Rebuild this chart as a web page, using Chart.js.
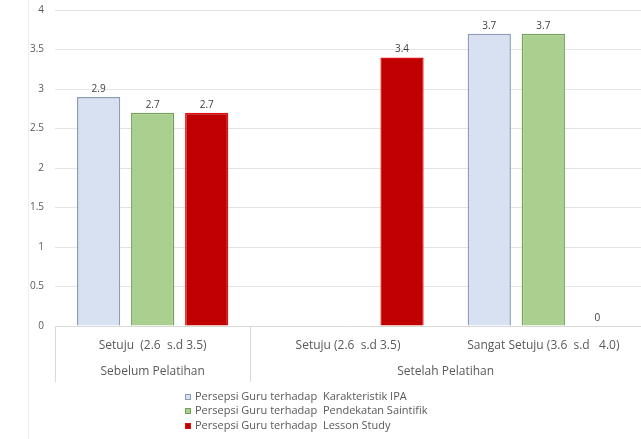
<!DOCTYPE html>
<html>
<head>
<meta charset="utf-8">
<script src="https://cdn.jsdelivr.net/npm/chart.js@4.4.1/dist/chart.umd.min.js"></script>
<style>
  html, body { margin: 0; padding: 0; background: #ffffff; }
  #wrap { width: 641px; height: 439px; }
</style>
</head>
<body>
<div id="wrap"><canvas id="c" width="641" height="439"></canvas></div>
<script>
// Category rows of the x axis
const categories = ['Setuju  (2.6  s.d 3.5)', 'Setuju (2.6  s.d 3.5)', 'Sangat Setuju (3.6  s.d   4.0)'];
const groups = ['Sebelum Pelatihan', 'Setelah Pelatihan'];
const groupOfCategory = [0, 1, 1];

// Series
const seriesNames = [
  'Persepsi Guru terhadap  Karakteristik IPA',
  'Persepsi Guru terhadap  Pendekatan Saintifik',
  'Persepsi Guru terhadap  Lesson Study'
];
const karakteristikIPA = [2.9, null, 3.7];
const pendekatanSaintifik = [2.7, null, 3.7];
const lessonStudy = [2.7, 3.4, 0];

// Value axis ticks
const yTicks = [0, 0.5, 1, 1.5, 2, 2.5, 3, 3.5, 4];

const FONT = '"Open Sans", Lato, "Liberation Sans", sans-serif';
const TEXT = '#595959';
const LINE = '#d9d9d9';

const fills = ['#d7e1f1', '#a9d08e', '#c00000'];
const borders = ['#8c9cb8', '#74a05a', '#e01010'];

// Lower category row: group names with separators
const groupRow = {
  id: 'groupRow',
  afterDraw(chart) {
    const ctx = chart.ctx, x = chart.scales.x, area = chart.chartArea;
    const half = (x.getPixelForValue(1) - x.getPixelForValue(0)) / 2;
    ctx.save();
    ctx.strokeStyle = LINE;
    ctx.lineWidth = 1;
    ctx.fillStyle = TEXT;
    ctx.font = '12px ' + FONT;
    ctx.textAlign = 'center';
    ctx.textBaseline = 'middle';
    groups.forEach((g, gi) => {
      const idx = groupOfCategory.map((v, i) => v === gi ? i : -1).filter(i => i >= 0);
      const left = x.getPixelForValue(idx[0]) - half;
      const right = x.getPixelForValue(idx[idx.length - 1]) + half;
      ctx.fillText(g, (left + Math.min(right, chart.width + 2)) / 2, 372);
      const lx = Math.round(left) + 0.5;
      ctx.beginPath();
      ctx.moveTo(lx, area.bottom);
      ctx.lineTo(lx, 382);
      ctx.stroke();
    });
    // outer frame line on the left
    ctx.strokeStyle = '#efefef';
    ctx.beginPath();
    ctx.moveTo(28.5, 0);
    ctx.lineTo(28.5, 439);
    ctx.stroke();
    ctx.restore();
  }
};

// Values written above each bar
const valueLabels = {
  id: 'valueLabels',
  afterDatasetsDraw(chart) {
    const ctx = chart.ctx;
    ctx.save();
    ctx.fillStyle = '#404040';
    ctx.font = '10px ' + FONT;
    ctx.textAlign = 'center';
    ctx.textBaseline = 'bottom';
    chart.data.datasets.forEach((ds, di) => {
      const meta = chart.getDatasetMeta(di);
      meta.data.forEach((el, i) => {
        const v = ds.data[i];
        if (v === null || v === undefined) return;
        ctx.fillText(String(v), el.x, el.y - 3);
      });
    });
    ctx.restore();
  }
};

// Vertical legend under the axis
const stackedLegend = {
  id: 'stackedLegend',
  afterDraw(chart) {
    const ctx = chart.ctx;
    ctx.save();
    ctx.font = '11px ' + FONT;
    ctx.textAlign = 'left';
    ctx.textBaseline = 'middle';
    const rows = [397, 411, 426];
    chart.data.datasets.forEach((ds, i) => {
      const y = rows[i];
      ctx.fillStyle = ds.backgroundColor;
      ctx.strokeStyle = ds.borderColor;
      ctx.lineWidth = 1;
      ctx.fillRect(185, y - 3, 6, 6);
      ctx.strokeRect(185.5, y - 2.5, 5, 5);
      ctx.fillStyle = TEXT;
      ctx.fillText(ds.label, 195, y);
    });
    ctx.restore();
  }
};

const seriesData = [karakteristikIPA, pendekatanSaintifik, lessonStudy];

new Chart(document.getElementById('c'), {
  type: 'bar',
  data: {
    labels: categories,
    datasets: seriesData.map((d, i) => ({
      label: seriesNames[i],
      data: d,
      backgroundColor: fills[i],
      borderColor: borders[i],
      borderWidth: 1.5,
      categoryPercentage: 0.83,
      barPercentage: 0.8
    }))
  },
  options: {
    responsive: false,
    devicePixelRatio: 1,
    animation: false,
    layout: { padding: { top: 10, right: 0, left: 0, bottom: 0 } },
    plugins: { legend: { display: false }, tooltip: { enabled: false } },
    scales: {
      x: {
        grid: { display: false, drawTicks: false },
        border: { display: true, color: LINE, width: 1 },
        ticks: { color: TEXT, font: { family: FONT, size: 12 }, padding: 12, maxRotation: 0, autoSkip: false },
        afterFit(s) { s.height = 113; s.paddingLeft = 0; s.paddingRight = 0; }
      },
      y: {
        min: 0,
        max: 4,
        afterBuildTicks(s) { s.ticks = yTicks.map(v => ({ value: v })); },
        grid: { color: '#e3e3e3', drawTicks: false },
        border: { display: false },
        ticks: {
          color: TEXT,
          font: { family: FONT, size: 10 },
          padding: 11,
          callback: v => String(v)
        },
        afterFit(s) { s.width = 55; s.paddingTop = 0; s.paddingBottom = 0; }
      }
    }
  },
  plugins: [groupRow, valueLabels, stackedLegend]
});
</script>
</body>
</html>
